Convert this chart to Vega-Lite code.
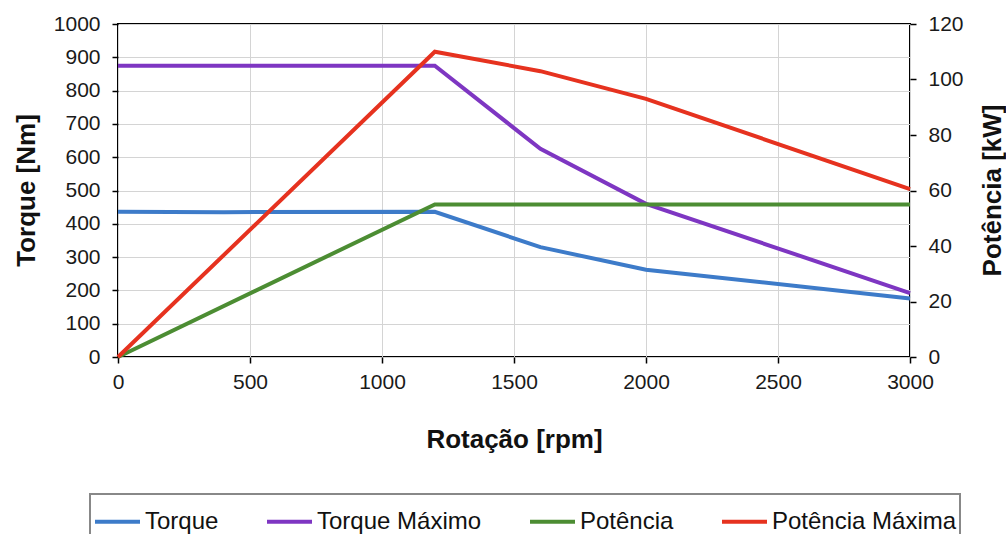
{
  "$schema": "https://vega.github.io/schema/vega-lite/v6.json",
  "width": 792,
  "height": 333,
  "autosize": {"type": "none"},
  "padding": {"left": 118, "top": 24, "right": 96, "bottom": 177},
  "background": "white",
  "config": {
    "font": "Liberation Sans",
    "view": {"stroke": "black", "strokeWidth": 2},
    "axis": {
      "domain": false,
      "tickColor": "black",
      "tickSize": 6,
      "tickWidth": 1.5,
      "labelFontSize": 21,
      "labelColor": "#1a1a1a",
      "labelFont": "Liberation Sans",
      "labelFlush": false,
      "labelOverlap": false,
      "format": "d",
      "titleFont": "Liberation Sans",
      "titleFontSize": 26,
      "titleFontWeight": "bold",
      "titleColor": "#111",
      "gridColor": "#d4d4d4",
      "gridWidth": 1
    }
  },
  "data": {
    "values": [
      {"rpm": 0, "serie": "Torque", "eixo": "T", "valor": 436},
      {"rpm": 400, "serie": "Torque", "eixo": "T", "valor": 435},
      {"rpm": 1200, "serie": "Torque", "eixo": "T", "valor": 436},
      {"rpm": 1600, "serie": "Torque", "eixo": "T", "valor": 330},
      {"rpm": 2000, "serie": "Torque", "eixo": "T", "valor": 262},
      {"rpm": 3000, "serie": "Torque", "eixo": "T", "valor": 176},
      {"rpm": 0, "serie": "Torque Máximo", "eixo": "T", "valor": 875},
      {"rpm": 1200, "serie": "Torque Máximo", "eixo": "T", "valor": 875},
      {"rpm": 1600, "serie": "Torque Máximo", "eixo": "T", "valor": 625},
      {"rpm": 2000, "serie": "Torque Máximo", "eixo": "T", "valor": 460},
      {"rpm": 3000, "serie": "Torque Máximo", "eixo": "T", "valor": 192},
      {"rpm": 0, "serie": "Potência", "eixo": "P", "valor": 0},
      {"rpm": 1200, "serie": "Potência", "eixo": "P", "valor": 55},
      {"rpm": 3000, "serie": "Potência", "eixo": "P", "valor": 55},
      {"rpm": 0, "serie": "Potência Máxima", "eixo": "P", "valor": 0},
      {"rpm": 1200, "serie": "Potência Máxima", "eixo": "P", "valor": 110},
      {"rpm": 1600, "serie": "Potência Máxima", "eixo": "P", "valor": 103},
      {"rpm": 2000, "serie": "Potência Máxima", "eixo": "P", "valor": 93},
      {"rpm": 3000, "serie": "Potência Máxima", "eixo": "P", "valor": 60.5}
    ]
  },
  "encoding": {
    "x": {
      "field": "rpm",
      "type": "quantitative",
      "scale": {"domain": [0, 3000], "nice": false},
      "axis": {
        "title": "Rotação [rpm]",
        "values": [0, 500, 1000, 1500, 2000, 2500, 3000],
        "labelPadding": 8,
        "titleX": 396,
        "titleY": 82,
        "titleBaseline": "middle"
      }
    },
    "color": {
      "field": "serie",
      "type": "nominal",
      "scale": {
        "domain": ["Torque", "Torque Máximo", "Potência", "Potência Máxima"],
        "range": ["#3d7bc9", "#7e36c2", "#4c8d33", "#e6321f"]
      },
      "legend": {
        "title": null,
        "orient": "none",
        "legendX": -28,
        "legendY": 470,
        "direction": "horizontal",
        "columns": 4,
        "symbolType": "stroke",
        "symbolSize": 2025,
        "symbolStrokeWidth": 4,
        "labelFontSize": 24,
        "labelColor": "#111",
        "labelFont": "Liberation Sans",
        "labelOffset": 3,
        "columnPadding": 40,
        "padding": 3,
        "strokeColor": "#888",
        "labelLimit": 400,
        "encode": {"legend": {"update": {"strokeWidth": {"value": 2}}}}
      }
    }
  },
  "layer": [
    {
      "transform": [{"filter": "datum.eixo == 'T'"}],
      "mark": {"type": "line", "strokeWidth": 4},
      "encoding": {
        "y": {
          "field": "valor",
          "type": "quantitative",
          "scale": {"domain": [0, 1000], "nice": false},
          "axis": {
            "title": "Torque [Nm]",
            "values": [0, 100, 200, 300, 400, 500, 600, 700, 800, 900, 1000],
            "labelPadding": 12,
            "titleX": -92,
            "titleY": 166,
            "titleBaseline": "middle",
            "titleAngle": 270
          }
        }
      }
    },
    {
      "transform": [{"filter": "datum.eixo == 'P'"}],
      "mark": {"type": "line", "strokeWidth": 4},
      "encoding": {
        "y": {
          "field": "valor",
          "type": "quantitative",
          "scale": {"domain": [0, 120], "nice": false},
          "axis": {
            "orient": "right",
            "title": "Potência [kW]",
            "grid": false,
            "values": [0, 20, 40, 60, 80, 100, 120],
            "labelPadding": 12,
            "titleX": 82,
            "titleY": 166,
            "titleBaseline": "middle",
            "titleAngle": 270
          }
        }
      }
    }
  ],
  "resolve": {"scale": {"y": "independent"}}
}
